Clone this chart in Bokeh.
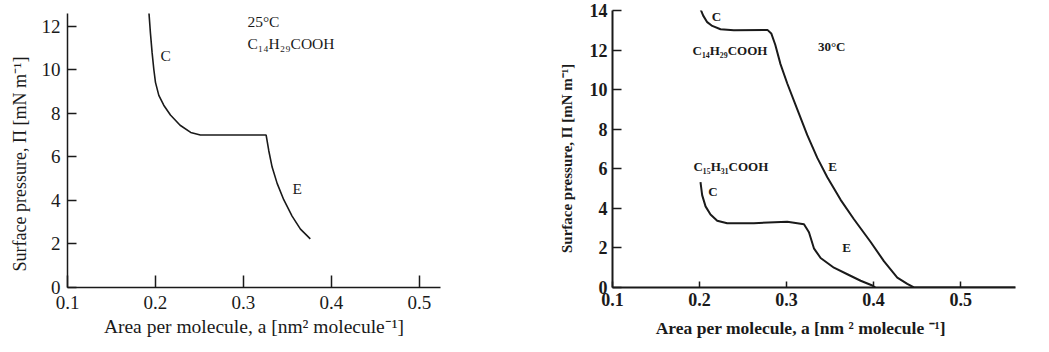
from bokeh.plotting import figure
from bokeh.layouts import row
from bokeh.models import FixedTicker
from bokeh.core.properties import value
from bokeh.embed import file_html
from bokeh.resources import INLINE

# Surface pressure isotherm, 25 °C, C14H29COOH
left_area = [0.1924, 0.1943, 0.1962, 0.1981, 0.2000, 0.2038, 0.2094, 0.2170, 0.2280,
             0.2400, 0.2510, 0.2900, 0.3258, 0.3288, 0.3326, 0.3383, 0.3458, 0.3553,
             0.3648, 0.3760]
left_pi = [12.72, 11.67, 10.77, 10.02, 9.42, 8.82, 8.37, 7.92, 7.45,
           7.12, 7.0, 7.0, 7.0, 6.28, 5.53, 4.78, 4.03, 3.28,
           2.68, 2.23]

# 30 °C, C14H29COOH
top_area = [0.2011, 0.2042, 0.2088, 0.2146, 0.2241, 0.2394, 0.2780, 0.2824, 0.2870,
            0.2930, 0.3008, 0.3123, 0.3238, 0.3353, 0.3468, 0.3621, 0.3774, 0.3966,
            0.4120, 0.4272, 0.4387, 0.4463, 0.5630]
top_pi = [14.07, 13.74, 13.41, 13.22, 13.05, 13.0, 13.02, 12.84, 12.27,
          11.29, 10.31, 9.0, 7.70, 6.55, 5.57, 4.43, 3.45, 2.30,
          1.32, 0.50, 0.18, 0.0, 0.0]

# 30 °C, C15H31COOH
low_area = [0.2011, 0.2030, 0.2069, 0.2126, 0.2203, 0.2318, 0.2624, 0.3008, 0.3200,
            0.3257, 0.3314, 0.3391, 0.3544, 0.3698, 0.3851, 0.3985, 0.4020]
low_pi = [5.33, 4.67, 4.10, 3.69, 3.37, 3.25, 3.25, 3.32, 3.20,
          2.79, 1.98, 1.49, 1.0, 0.67, 0.34, 0.10, 0.0]

x_ticks = [0.1, 0.2, 0.3, 0.4, 0.5]
left_y_ticks = [0, 2, 4, 6, 8, 10, 12]
right_y_ticks = [0, 2, 4, 6, 8, 10, 12, 14]

# annotation texts: (area, pressure, text)
left_notes = [(0.2057, 10.65, "C"), (0.3557, 4.55, "E"),
              (0.3045, 12.2, "25°C"), (0.3045, 11.2, "C₁₄H₂₉COOH")]
right_notes = [(0.214, 13.72, "C"), (0.192, 11.96, "C₁₄H₂₉COOH"), (0.336, 12.2, "30°C"),
               (0.348, 6.1, "E"), (0.193, 6.1, "C₁₅H₃₁COOH"), (0.210, 4.85, "C"),
               (0.364, 2.0, "E")]

SERIF = "Liberation Serif"
INK = "#1a1a1a"
NBSP = "\u00a0"  # trailing no-break spaces nudge an axis title off the frame centre


def style(p, yticks, bold, tick_px, lab_px, tick_in_x, tick_in_y,
          tick_standoff_x, tick_standoff_y):
    p.grid.visible = False
    p.outline_line_color = None
    p.xaxis.ticker = FixedTicker(ticks=x_ticks)
    p.yaxis.ticker = FixedTicker(ticks=yticks)
    for ax in (p.xaxis[0], p.yaxis[0]):
        ax.axis_line_color = INK
        ax.axis_line_width = 2 if bold else 1.5
        ax.major_tick_line_color = INK
        ax.major_tick_line_width = 1.5
        ax.major_tick_out = 0
        ax.minor_tick_out = 0
        ax.minor_tick_in = 0
        ax.major_label_text_font = SERIF
        ax.major_label_text_color = INK
        ax.major_label_text_font_size = tick_px
        ax.major_label_text_font_style = "bold" if bold else "normal"
        ax.axis_label_text_font = SERIF
        ax.axis_label_text_color = INK
        ax.axis_label_text_font_style = "bold" if bold else "normal"
    p.xaxis.axis_label_text_font_size = lab_px[0]
    p.yaxis.axis_label_text_font_size = lab_px[1]
    p.xaxis.major_tick_in = tick_in_x
    p.yaxis.major_tick_in = tick_in_y
    p.xaxis.major_label_standoff = tick_standoff_x
    p.yaxis.major_label_standoff = tick_standoff_y
    p.xaxis.major_label_overrides = {t: f"{t:.1f}" for t in x_ticks}


left = figure(width=490, height=352, x_range=(0.1, 0.524), y_range=(0, 12.58),
              output_backend="svg", toolbar_location=None,
              min_border_left=67, min_border_right=50, min_border_top=13,
              min_border_bottom=59)
left.xaxis.axis_label = "Area per molecule, a [nm² molecule⁻¹]"
left.yaxis.axis_label = "Surface pressure, Π  [mN m⁻¹]" + NBSP * 5
style(left, left_y_ticks, False, "19px", ("19.5px", "18px"), 12, 9, 8, 7)
left.xaxis.axis_label_standoff = 4
left.yaxis.axis_label_standoff = 9
left.line(left_area, left_pi, line_color=INK, line_width=1.6)
for x, y, t in left_notes:
    left.text(x=[x], y=[y], text=[t], text_font=value(SERIF), text_font_size="15.5px",
              text_color=INK, text_baseline="middle", text_align="left")

# canvas pulled up a little so the plot top sits close to the window edge
right = figure(width=559, height=355, x_range=(0.1, 0.563), y_range=(0, 14.0),
               output_backend="svg", toolbar_location=None,
               min_border_left=122, min_border_right=34, min_border_top=13,
               min_border_bottom=65, margin=(-3, 0, 0, 0))
right.xaxis.axis_label = "Area per molecule, a [nm ² molecule ⁻¹]" + NBSP * 6
right.yaxis.axis_label = "Surface pressure, Π  [mN m⁻¹]" + NBSP * 4
style(right, right_y_ticks, True, "18px", ("17.5px", "15px"), 6, 9, 5, 5)
right.xaxis.axis_label_standoff = 9
right.yaxis.axis_label_standoff = 12
right.line(top_area, top_pi, line_color=INK, line_width=2)
right.line(low_area, low_pi, line_color=INK, line_width=2)
for x, y, t in right_notes:
    right.text(x=[x], y=[y], text=[t], text_font=value(SERIF), text_font_size="13px",
               text_font_style="bold", text_color=INK, text_baseline="middle",
               text_align="left")

layout = row(left, right, spacing=0)
open("out.html", "w").write(file_html(layout, INLINE))
